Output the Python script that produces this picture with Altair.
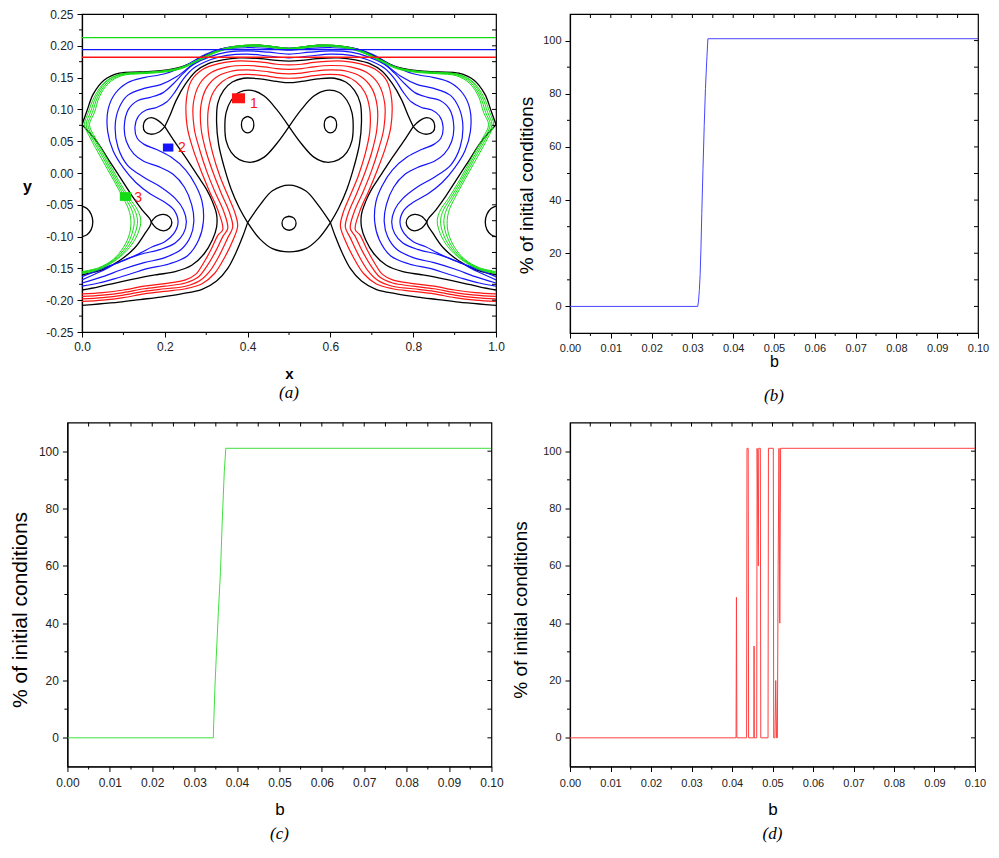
import altair as alt
import pandas as pd

FONT = "Liberation Sans"
SERIF = "Liberation Serif"
BLK = "#000000"
RED = "#ff1414"
BLUE = "#1414ff"
GREEN = "#14dc14"

# ---------------- panel (a) ----------------
A_X_TICKS = [0.0, 0.2, 0.4, 0.6, 0.8, 1.0]
A_X_MINOR = [0.1, 0.3, 0.5, 0.7, 0.9]
A_X_TOP = [0.1, 0.2, 0.3, 0.4, 0.5, 0.6, 0.7, 0.8, 0.9]
A_Y_TICKS = [-0.25, -0.20, -0.15, -0.10, -0.05, 0.0, 0.05, 0.10, 0.15, 0.20, 0.25]
A_Y_MINOR = [-0.225, -0.175, -0.125, -0.075, -0.025, 0.025, 0.075, 0.125, 0.175, 0.225]

A_HLINE_Y = [0.213, 0.194, 0.182]
A_HLINE_C = [GREEN, BLUE, RED]

BLACK_CURVES = [
    [(0.0,0.076),(0.012,0.098),(0.027,0.124),(0.053,0.146),(0.09,0.157),(0.14,0.159),(0.19,0.161),(0.24,0.167),(0.28,0.179),(0.33,0.194),(0.38,0.2),(0.43,0.201),(0.47,0.198),(0.5,0.196),(0.53,0.198),(0.57,0.201),(0.62,0.2),(0.67,0.194),(0.72,0.179),(0.76,0.167),(0.81,0.161),(0.86,0.159),(0.91,0.157),(0.947,0.146),(0.973,0.124),(0.988,0.098),(1.0,0.076)],
    [(0.0,0.076),(0.035,0.05),(0.065,0.02),(0.095,-0.01),(0.12,-0.035),(0.145,-0.058),(0.167,-0.077),(0.152,-0.095),(0.127,-0.118),(0.09,-0.138),(0.05,-0.152),(0.0,-0.16)],
    [(1.0,0.076),(0.965,0.05),(0.935,0.02),(0.905,-0.01),(0.88,-0.035),(0.855,-0.058),(0.833,-0.077),(0.848,-0.095),(0.873,-0.118),(0.91,-0.138),(0.95,-0.152),(1.0,-0.16)],
    [(0.2,0.073),(0.212,0.09),(0.228,0.115),(0.25,0.14),(0.275,0.16),(0.305,0.172),(0.34,0.178),(0.38,0.181),(0.43,0.18),(0.47,0.177),(0.5,0.176),(0.53,0.177),(0.57,0.18),(0.62,0.181),(0.66,0.178),(0.695,0.172),(0.725,0.16),(0.75,0.14),(0.772,0.115),(0.788,0.09),(0.8,0.073)],
    [(0.2,0.073),(0.225,0.048),(0.255,0.02),(0.28,-0.005),(0.3,-0.025),(0.315,-0.045),(0.325,-0.065),(0.325,-0.085),(0.315,-0.105),(0.295,-0.127),(0.265,-0.145),(0.225,-0.155),(0.18,-0.16),(0.13,-0.166),(0.08,-0.173),(0.04,-0.179),(0.0,-0.184)],
    [(0.8,0.073),(0.775,0.048),(0.745,0.02),(0.72,-0.005),(0.7,-0.025),(0.685,-0.045),(0.675,-0.065),(0.675,-0.085),(0.685,-0.105),(0.705,-0.127),(0.735,-0.145),(0.775,-0.155),(0.82,-0.16),(0.87,-0.166),(0.92,-0.173),(0.96,-0.179),(1.0,-0.184)],
    [(0.4,-0.078),(0.38,-0.055),(0.36,-0.025),(0.343,0.01),(0.33,0.045),(0.325,0.08),(0.328,0.11),(0.342,0.13),(0.363,0.143),(0.39,0.149),(0.43,0.148),(0.47,0.144),(0.5,0.142),(0.53,0.144),(0.57,0.148),(0.61,0.149),(0.637,0.143),(0.658,0.13),(0.672,0.11),(0.675,0.08),(0.67,0.045),(0.657,0.01),(0.64,-0.025),(0.62,-0.055),(0.6,-0.078)],
    [(0.4,-0.078),(0.388,-0.1),(0.372,-0.125),(0.352,-0.15),(0.325,-0.17),(0.29,-0.183),(0.24,-0.19),(0.19,-0.195),(0.14,-0.199),(0.09,-0.203),(0.04,-0.206),(0.0,-0.208)],
    [(0.6,-0.078),(0.612,-0.1),(0.628,-0.125),(0.648,-0.15),(0.675,-0.17),(0.71,-0.183),(0.76,-0.19),(0.81,-0.195),(0.86,-0.199),(0.91,-0.203),(0.96,-0.206),(1.0,-0.208)],
    [(0.4,-0.078),(0.43,-0.05),(0.46,-0.028),(0.5,-0.019),(0.54,-0.028),(0.57,-0.05),(0.6,-0.078)],
    [(0.4,-0.078),(0.43,-0.104),(0.46,-0.119),(0.5,-0.124),(0.54,-0.119),(0.57,-0.104),(0.6,-0.078)],
    [(0.5,-0.068),(0.512,-0.071),(0.517,-0.079),(0.512,-0.087),(0.5,-0.09),(0.488,-0.087),(0.483,-0.079),(0.488,-0.071),(0.5,-0.068)],
    [(0.5,0.073),(0.47,0.1),(0.44,0.121),(0.41,0.13),(0.38,0.127),(0.36,0.114),(0.348,0.095),(0.345,0.073),(0.348,0.051),(0.36,0.033),(0.38,0.021),(0.41,0.017),(0.44,0.025),(0.47,0.046),(0.5,0.073)],
    [(0.5,0.073),(0.53,0.1),(0.56,0.121),(0.59,0.13),(0.62,0.127),(0.64,0.114),(0.652,0.095),(0.655,0.073),(0.652,0.051),(0.64,0.033),(0.62,0.021),(0.59,0.017),(0.56,0.025),(0.53,0.046),(0.5,0.073)],
    [(0.4,0.089),(0.411,0.085),(0.415,0.076),(0.411,0.067),(0.4,0.063),(0.389,0.067),(0.385,0.076),(0.389,0.085),(0.4,0.089)],
    [(0.6,0.089),(0.611,0.085),(0.615,0.076),(0.611,0.067),(0.6,0.063),(0.589,0.067),(0.585,0.076),(0.589,0.085),(0.6,0.089)],
    [(0.2,0.073),(0.185,0.082),(0.167,0.087),(0.153,0.083),(0.148,0.074),(0.152,0.065),(0.166,0.061),(0.185,0.064),(0.2,0.073)],
    [(0.8,0.073),(0.815,0.082),(0.833,0.087),(0.847,0.083),(0.852,0.074),(0.848,0.065),(0.834,0.061),(0.815,0.064),(0.8,0.073)],
    [(0.167,-0.077),(0.18,-0.068),(0.197,-0.065),(0.211,-0.069),(0.217,-0.078),(0.211,-0.087),(0.197,-0.091),(0.18,-0.087),(0.167,-0.077)],
    [(0.833,-0.077),(0.82,-0.068),(0.803,-0.065),(0.789,-0.069),(0.783,-0.078),(0.789,-0.087),(0.803,-0.091),(0.82,-0.087),(0.833,-0.077)],
    [(0.0,-0.052),(0.012,-0.056),(0.022,-0.065),(0.026,-0.077),(0.022,-0.089),(0.012,-0.097),(0.0,-0.1)],
    [(1.0,-0.052),(0.988,-0.056),(0.978,-0.065),(0.974,-0.077),(0.978,-0.089),(0.988,-0.097),(1.0,-0.1)],
]

RED_CURVES = [
    [(0,-0.202),(0.05,-0.2),(0.1,-0.196),(0.15,-0.19),(0.2,-0.186),(0.25,-0.182),(0.29,-0.174),(0.32,-0.158),(0.345,-0.132),(0.365,-0.105),(0.376,-0.083),(0.368,-0.06),(0.352,-0.035),(0.333,-0.005),(0.316,0.03),(0.305,0.065),(0.305,0.1),(0.317,0.127),(0.339,0.144),(0.368,0.153),(0.4,0.155),(0.44,0.153),(0.47,0.15),(0.5,0.149),
     (0.53,0.15),(0.56,0.153),(0.6,0.155),(0.632,0.153),(0.661,0.144),(0.683,0.127),(0.695,0.1),(0.695,0.065),(0.684,0.03),(0.667,-0.005),(0.648,-0.035),(0.632,-0.06),(0.624,-0.083),(0.635,-0.105),(0.655,-0.132),(0.68,-0.158),(0.71,-0.174),(0.75,-0.182),(0.8,-0.186),(0.85,-0.19),(0.9,-0.196),(0.95,-0.2),(1.0,-0.202)],
    [(0,-0.198),(0.05,-0.196),(0.1,-0.192),(0.15,-0.186),(0.2,-0.182),(0.25,-0.178),(0.285,-0.169),(0.31,-0.153),(0.333,-0.128),(0.352,-0.102),(0.364,-0.085),(0.355,-0.06),(0.337,-0.033),(0.317,0.0),(0.3,0.033),(0.288,0.068),(0.287,0.105),(0.3,0.133),(0.325,0.151),(0.36,0.16),(0.4,0.162),(0.44,0.16),(0.47,0.157),(0.5,0.156),
     (0.53,0.157),(0.56,0.16),(0.6,0.162),(0.64,0.16),(0.675,0.151),(0.7,0.133),(0.713,0.105),(0.712,0.068),(0.7,0.033),(0.683,0.0),(0.663,-0.033),(0.645,-0.06),(0.636,-0.085),(0.648,-0.102),(0.667,-0.128),(0.69,-0.153),(0.715,-0.169),(0.75,-0.178),(0.8,-0.182),(0.85,-0.186),(0.9,-0.192),(0.95,-0.196),(1.0,-0.198)],
    [(0,-0.194),(0.05,-0.192),(0.1,-0.188),(0.15,-0.182),(0.2,-0.178),(0.25,-0.173),(0.28,-0.164),(0.3,-0.148),(0.322,-0.124),(0.34,-0.1),(0.352,-0.087),(0.342,-0.06),(0.322,-0.031),(0.301,0.003),(0.284,0.037),(0.271,0.07),(0.269,0.11),(0.284,0.14),(0.312,0.158),(0.352,0.167),(0.4,0.169),(0.44,0.167),(0.47,0.164),(0.5,0.163),
     (0.53,0.164),(0.56,0.167),(0.6,0.169),(0.648,0.167),(0.688,0.158),(0.716,0.14),(0.731,0.11),(0.729,0.07),(0.716,0.037),(0.699,0.003),(0.678,-0.031),(0.658,-0.06),(0.648,-0.087),(0.66,-0.1),(0.678,-0.124),(0.7,-0.148),(0.72,-0.164),(0.75,-0.173),(0.8,-0.178),(0.85,-0.182),(0.9,-0.188),(0.95,-0.192),(1.0,-0.194)],
    [(0,-0.19),(0.05,-0.188),(0.1,-0.184),(0.15,-0.178),(0.2,-0.174),(0.25,-0.168),(0.275,-0.159),(0.292,-0.143),(0.312,-0.12),(0.328,-0.098),(0.34,-0.089),(0.329,-0.06),(0.308,-0.029),(0.286,0.006),(0.267,0.04),(0.254,0.073),(0.252,0.115),(0.264,0.145),(0.292,0.163),(0.33,0.172),(0.37,0.176),(0.4,0.176),(0.44,0.174),(0.47,0.171),(0.5,0.17),
     (0.53,0.171),(0.56,0.174),(0.6,0.176),(0.63,0.176),(0.67,0.172),(0.708,0.163),(0.736,0.145),(0.748,0.115),(0.746,0.073),(0.733,0.04),(0.714,0.006),(0.692,-0.029),(0.671,-0.06),(0.66,-0.089),(0.672,-0.098),(0.688,-0.12),(0.708,-0.143),(0.725,-0.159),(0.75,-0.168),(0.8,-0.174),(0.85,-0.178),(0.9,-0.184),(0.95,-0.188),(1.0,-0.19)],
]

BLUE_CURVES = [
    [(0,-0.178),(0.04,-0.173),(0.08,-0.166),(0.12,-0.158),(0.16,-0.15),(0.21,-0.143),(0.255,-0.13),(0.282,-0.105),(0.293,-0.077),(0.29,-0.045),(0.275,-0.02),(0.25,0.005),(0.215,0.025),(0.18,0.037),(0.15,0.045),(0.133,0.055),(0.128,0.073),(0.137,0.09),(0.155,0.099),(0.18,0.103),(0.205,0.112),(0.225,0.128),(0.245,0.148),(0.27,0.165),(0.31,0.178),(0.35,0.185),(0.4,0.187),(0.45,0.184),(0.5,0.181),
     (0.55,0.184),(0.6,0.187),(0.65,0.185),(0.69,0.178),(0.73,0.165),(0.755,0.148),(0.775,0.128),(0.795,0.112),(0.82,0.103),(0.845,0.099),(0.863,0.09),(0.872,0.073),(0.867,0.055),(0.85,0.045),(0.82,0.037),(0.785,0.025),(0.75,0.005),(0.725,-0.02),(0.71,-0.045),(0.707,-0.077),(0.718,-0.105),(0.745,-0.13),(0.79,-0.143),(0.84,-0.15),(0.88,-0.158),(0.92,-0.166),(0.96,-0.173),(1.0,-0.178)],
    [(0,-0.173),(0.05,-0.163),(0.1,-0.151),(0.15,-0.141),(0.2,-0.133),(0.24,-0.12),(0.262,-0.1),(0.27,-0.077),(0.265,-0.05),(0.247,-0.022),(0.22,-0.002),(0.185,0.01),(0.15,0.018),(0.125,0.03),(0.107,0.05),(0.102,0.073),(0.112,0.1),(0.135,0.114),(0.165,0.119),(0.195,0.126),(0.22,0.14),(0.245,0.157),(0.27,0.171),(0.31,0.183),(0.35,0.19),(0.4,0.192),(0.45,0.19),(0.5,0.187),
     (0.55,0.19),(0.6,0.192),(0.65,0.19),(0.69,0.183),(0.73,0.171),(0.755,0.157),(0.78,0.14),(0.805,0.126),(0.835,0.119),(0.865,0.114),(0.888,0.1),(0.898,0.073),(0.893,0.05),(0.875,0.03),(0.85,0.018),(0.815,0.01),(0.78,-0.002),(0.753,-0.022),(0.735,-0.05),(0.73,-0.077),(0.738,-0.1),(0.76,-0.12),(0.8,-0.133),(0.85,-0.141),(0.9,-0.151),(0.95,-0.163),(1.0,-0.173)],
    [(0,-0.168),(0.045,-0.155),(0.09,-0.14),(0.14,-0.128),(0.19,-0.12),(0.225,-0.11),(0.245,-0.095),(0.252,-0.077),(0.245,-0.058),(0.225,-0.04),(0.19,-0.022),(0.15,-0.007),(0.11,0.012),(0.087,0.04),(0.08,0.073),(0.088,0.1),(0.11,0.122),(0.15,0.133),(0.19,0.139),(0.23,0.152),(0.27,0.172),(0.31,0.187),(0.35,0.195),(0.4,0.197),(0.45,0.196),(0.5,0.193),
     (0.55,0.196),(0.6,0.197),(0.65,0.195),(0.69,0.187),(0.73,0.172),(0.77,0.152),(0.81,0.139),(0.85,0.133),(0.89,0.122),(0.912,0.1),(0.92,0.073),(0.913,0.04),(0.89,0.012),(0.85,-0.007),(0.81,-0.022),(0.775,-0.04),(0.755,-0.058),(0.748,-0.077),(0.755,-0.095),(0.775,-0.11),(0.81,-0.12),(0.86,-0.128),(0.91,-0.14),(0.955,-0.155),(1.0,-0.168)],
    [(0,-0.163),(0.05,-0.15),(0.1,-0.138),(0.14,-0.126),(0.17,-0.116),(0.2,-0.108),(0.222,-0.095),(0.232,-0.077),(0.222,-0.058),(0.2,-0.046),(0.165,-0.033),(0.13,-0.015),(0.1,0.008),(0.075,0.035),(0.062,0.065),(0.063,0.1),(0.08,0.125),(0.11,0.142),(0.15,0.15),(0.2,0.156),(0.25,0.169),(0.3,0.187),(0.35,0.197),(0.4,0.2),(0.45,0.199),(0.5,0.196),
     (0.55,0.199),(0.6,0.2),(0.65,0.197),(0.7,0.187),(0.75,0.169),(0.8,0.156),(0.85,0.15),(0.89,0.142),(0.92,0.125),(0.937,0.1),(0.938,0.065),(0.925,0.035),(0.9,0.008),(0.87,-0.015),(0.835,-0.033),(0.8,-0.046),(0.778,-0.058),(0.768,-0.077),(0.778,-0.095),(0.8,-0.108),(0.83,-0.116),(0.86,-0.126),(0.9,-0.138),(0.95,-0.15),(1.0,-0.163)],
]

GREEN_CURVES = [
    [(0,-0.155),(0.04,-0.149),(0.075,-0.136),(0.1,-0.117),(0.115,-0.095),(0.118,-0.075),(0.113,-0.058),(0.1,-0.04),(0.075,-0.01),(0.045,0.025),(0.02,0.055),(0.006,0.076),(0.015,0.095),(0.03,0.12),(0.055,0.143),(0.09,0.155),(0.14,0.158),(0.19,0.16),(0.24,0.166),(0.28,0.178),(0.33,0.193),(0.38,0.2),(0.43,0.201),(0.47,0.198),(0.5,0.196),
     (0.53,0.198),(0.57,0.201),(0.62,0.2),(0.67,0.193),(0.72,0.178),(0.76,0.166),(0.81,0.16),(0.86,0.158),(0.91,0.155),(0.945,0.143),(0.97,0.12),(0.985,0.095),(0.994,0.076),(0.98,0.055),(0.955,0.025),(0.925,-0.01),(0.9,-0.04),(0.887,-0.058),(0.882,-0.075),(0.885,-0.095),(0.9,-0.117),(0.925,-0.136),(0.96,-0.149),(1.0,-0.155)],
    [(0,-0.156),(0.04,-0.15),(0.078,-0.136),(0.105,-0.117),(0.121,-0.095),(0.126,-0.075),(0.12,-0.058),(0.105,-0.04),(0.079,-0.01),(0.05,0.025),(0.024,0.055),(0.01,0.076),(0.02,0.095),(0.034,0.12),(0.058,0.143),(0.092,0.155),(0.14,0.158),(0.19,0.16),(0.24,0.166),(0.28,0.178),(0.33,0.193),(0.38,0.2),(0.43,0.201),(0.47,0.198),(0.5,0.196),
     (0.53,0.198),(0.57,0.201),(0.62,0.2),(0.67,0.193),(0.72,0.178),(0.76,0.166),(0.81,0.16),(0.86,0.158),(0.908,0.155),(0.942,0.143),(0.966,0.12),(0.98,0.095),(0.99,0.076),(0.976,0.055),(0.95,0.025),(0.921,-0.01),(0.895,-0.04),(0.88,-0.058),(0.874,-0.075),(0.879,-0.095),(0.895,-0.117),(0.922,-0.136),(0.96,-0.15),(1.0,-0.156)],
    [(0,-0.157),(0.04,-0.151),(0.081,-0.136),(0.11,-0.117),(0.128,-0.095),(0.134,-0.075),(0.127,-0.058),(0.11,-0.04),(0.083,-0.01),(0.054,0.025),(0.028,0.055),(0.014,0.076),(0.025,0.095),(0.038,0.12),(0.061,0.142),(0.094,0.154),(0.14,0.157),(0.19,0.159),(0.24,0.165),(0.28,0.177),(0.33,0.192),(0.38,0.199),(0.43,0.2),(0.47,0.197),(0.5,0.195),
     (0.53,0.197),(0.57,0.2),(0.62,0.199),(0.67,0.192),(0.72,0.177),(0.76,0.165),(0.81,0.159),(0.86,0.157),(0.906,0.154),(0.939,0.142),(0.962,0.12),(0.975,0.095),(0.986,0.076),(0.972,0.055),(0.946,0.025),(0.917,-0.01),(0.89,-0.04),(0.873,-0.058),(0.866,-0.075),(0.872,-0.095),(0.89,-0.117),(0.919,-0.136),(0.96,-0.151),(1.0,-0.157)],
    [(0,-0.158),(0.04,-0.152),(0.084,-0.136),(0.115,-0.117),(0.135,-0.095),(0.142,-0.075),(0.134,-0.058),(0.115,-0.04),(0.087,-0.01),(0.058,0.025),(0.032,0.055),(0.018,0.076),(0.03,0.095),(0.042,0.12),(0.064,0.141),(0.096,0.153),(0.14,0.156),(0.19,0.158),(0.24,0.164),(0.28,0.176),(0.33,0.191),(0.38,0.198),(0.43,0.199),(0.47,0.196),(0.5,0.194),
     (0.53,0.196),(0.57,0.199),(0.62,0.198),(0.67,0.191),(0.72,0.176),(0.76,0.164),(0.81,0.158),(0.86,0.156),(0.904,0.153),(0.936,0.141),(0.958,0.12),(0.97,0.095),(0.982,0.076),(0.968,0.055),(0.942,0.025),(0.913,-0.01),(0.885,-0.04),(0.866,-0.058),(0.858,-0.075),(0.865,-0.095),(0.885,-0.117),(0.916,-0.136),(0.96,-0.152),(1.0,-0.158)],
]

MARK_X = [0.378, 0.208, 0.105]
MARK_Y = [0.1175, 0.040, -0.037]
MARK_C = [RED, BLUE, GREEN]
MARK_S = [1.7, 1.1, 1.3]
MARK_TXT = ["1", "2", "3"]
MARK_TX = [0.406, 0.232, 0.126]
MARK_TY = [0.108, 0.040, -0.039]

# ---------------- panels (b), (c), (d) ----------------
B_TICKS = [0.0, 0.01, 0.02, 0.03, 0.04, 0.05, 0.06, 0.07, 0.08, 0.09, 0.10]
B_MINOR = [0.005, 0.015, 0.025, 0.035, 0.045, 0.055, 0.065, 0.075, 0.085, 0.095]
P_TICKS = [0, 20, 40, 60, 80, 100]
P_MINOR = [10, 30, 50, 70, 90]

BLUE_B = [0.0, 0.0313, 0.0315, 0.0317, 0.0319, 0.0321, 0.0323, 0.0326, 0.0329, 0.0332, 0.0335, 0.0338, 0.1]
BLUE_P = [0, 0, 2, 6, 12, 22, 35, 52, 68, 82, 92, 100.7, 100.7]

GREEN_B = [0.0, 0.0344, 0.0345, 0.0348, 0.0351, 0.0356, 0.0361, 0.0365, 0.0370, 0.03736, 0.1]
GREEN_P = [0, 0, 5, 18, 28, 44, 58, 75, 93, 101, 101]

RED_B = [0.0, 0.0410, 0.0411, 0.0412, 0.0436, 0.0437, 0.0440, 0.0441, 0.0454, 0.04545, 0.0455, 0.0461, 0.0462,
         0.0465, 0.0466, 0.0470, 0.0471, 0.0489, 0.0490, 0.0502, 0.0503, 0.0506, 0.0508, 0.0510, 0.0512, 0.0514,
         0.0516, 0.0518, 0.0520, 0.0526, 0.1]
RED_P = [0, 0, 49, 0, 0, 101, 101, 0, 0, 32, 0, 0, 101,
         60, 101, 101, 0, 0, 101, 101, 0, 0, 20, 0, 0, 60,
         101, 40, 101, 101, 101]

MINUS = "\u2212"


def curves_df(curves, color, width):
    rows = []
    for cid, pts in enumerate(curves):
        for k, (x, y) in enumerate(pts):
            rows.append({"cid": f"{color}{cid}", "k": k, "x": x, "y": y, "c": color, "w": width})
    return pd.DataFrame(rows)


def tick_layers(xs, ys, xaxis, yaxis, xvals_out, xvals_top, yvals_out, yvals_right, W, H,
                out_len=3, top_len=4, right_len=4):
    return [
        alt.Chart(pd.DataFrame({"x": xvals_out})).mark_rule(color=BLK, strokeWidth=1).encode(
            x=alt.X("x:Q", scale=xs, axis=xaxis), y=alt.value(H), y2=alt.value(H + out_len)),
        alt.Chart(pd.DataFrame({"x": xvals_top})).mark_rule(color=BLK, strokeWidth=1).encode(
            x=alt.X("x:Q", scale=xs, axis=xaxis), y=alt.value(0), y2=alt.value(top_len)),
        alt.Chart(pd.DataFrame({"y": yvals_out})).mark_rule(color=BLK, strokeWidth=1).encode(
            y=alt.Y("y:Q", scale=ys, axis=yaxis), x=alt.value(0), x2=alt.value(-out_len)),
        alt.Chart(pd.DataFrame({"y": yvals_right})).mark_rule(color=BLK, strokeWidth=1).encode(
            y=alt.Y("y:Q", scale=ys, axis=yaxis), x=alt.value(W), x2=alt.value(W - right_len)),
    ]


def caption(text, offset):
    return alt.TitleParams(text=text, orient="bottom", font=SERIF, fontStyle="italic", fontWeight="normal",
                           fontSize=17, color=BLK, offset=offset, anchor="middle")


def spacer(x, y):
    return alt.Chart(pd.DataFrame({"t": ["."]})).mark_text(opacity=0, fontSize=4).encode(
        x=alt.value(x), y=alt.value(y), text="t:N")


# ----- panel (a) -----
AW, AH = 414, 318
axs = alt.Scale(domain=[0, 1], nice=False, zero=False)
ays = alt.Scale(domain=[-0.25, 0.25], nice=False, zero=False)

a_xaxis = alt.Axis(values=A_X_TICKS, format=".1f", tickSize=5, labelFontSize=12, labelPadding=4,
                   labelFlush=False, labelOverlap=False, title="x", titleFontWeight="bold", titleFontSize=15,
                   titleY=41, titleBaseline="middle", grid=False)
a_yaxis = alt.Axis(values=A_Y_TICKS, tickSize=5, labelFontSize=12, labelPadding=4, labelOverlap=False,
                   labelExpr="replace(format(datum.value, '.2f'), '" + MINUS + "', '-')",
                   title="y", titleFontWeight="bold", titleFontSize=16, titleAngle=0, titleX=-55, titleY=172,
                   titleAlign="center", titleBaseline="middle", grid=False)


def a_lines(df):
    return alt.Chart(df).mark_line(interpolate="catmull-rom", clip=True).encode(
        x=alt.X("x:Q", scale=axs, axis=a_xaxis),
        y=alt.Y("y:Q", scale=ays, axis=a_yaxis),
        detail="cid:N", order="k:Q",
        color=alt.Color("c:N", scale=None),
        strokeWidth=alt.StrokeWidth("w:Q", scale=None),
    )


black_df = curves_df(BLACK_CURVES, BLK, 1.3)
red_df = curves_df(RED_CURVES, RED, 1.2)
blue_df = curves_df(BLUE_CURVES, BLUE, 1.2)
green_df = curves_df(GREEN_CURVES, GREEN, 1.0)

hl_df = pd.DataFrame({"y": A_HLINE_Y, "c": A_HLINE_C})
hlines = alt.Chart(hl_df).mark_rule(strokeWidth=1.3).encode(
    y=alt.Y("y:Q", scale=ays, axis=a_yaxis), x=alt.value(0), x2=alt.value(AW),
    color=alt.Color("c:N", scale=None))

mk_df = pd.DataFrame({"x": MARK_X, "y": MARK_Y, "c": MARK_C, "s": MARK_S,
                      "t": MARK_TXT, "tx": MARK_TX, "ty": MARK_TY})
markers = alt.Chart(mk_df).mark_point(shape="M-1.3,-1L1.3,-1L1.3,1L-1.3,1Z", filled=True, opacity=1).encode(
    x=alt.X("x:Q", scale=axs, axis=a_xaxis), y=alt.Y("y:Q", scale=ays, axis=a_yaxis),
    color=alt.Color("c:N", scale=None),
    size=alt.Size("s:Q", scale=alt.Scale(domain=[0, 1.7], range=[0, 100]), legend=None))
mlabels = alt.Chart(mk_df).transform_calculate(x="datum.tx", y="datum.ty").mark_text(
    font=FONT, fontSize=14, color=RED, align="left", baseline="middle").encode(
    x=alt.X("x:Q", scale=axs, axis=a_xaxis), y=alt.Y("y:Q", scale=ays, axis=a_yaxis), text="t:N")

panel_a = alt.layer(
    a_lines(black_df), a_lines(red_df), a_lines(blue_df), a_lines(green_df),
    hlines, markers, mlabels,
    *tick_layers(axs, ays, a_xaxis, a_yaxis, A_X_MINOR, A_X_TOP, A_Y_MINOR, A_Y_TICKS[1:-1] + A_Y_MINOR, AW, AH)
).properties(width=AW, height=AH, title=caption("(a)", 4))


# ----- panels (b), (c), (d) -----
def percent_panel(xs_list, ys_list, color, W, H, label_size, ytitle_size, xtitle_size,
                  ytitle_x, ytitle_y, xtitle_y, label_pad, cap, cap_off, extra):
    bx = alt.Scale(domain=[0, 0.1], nice=False, zero=False)
    py = alt.Scale(domain=[-10, 110], nice=False, zero=False)
    df = pd.DataFrame({"x": xs_list, "y": ys_list})
    xaxis = alt.Axis(values=B_TICKS, format=".2f", tickSize=5, labelFontSize=label_size, labelPadding=label_pad,
                     labelFlush=False, labelOverlap=False, title="b", titleFontSize=xtitle_size,
                     titleFontWeight="normal", titleY=xtitle_y, titleBaseline="middle", grid=False)
    yaxis = alt.Axis(values=P_TICKS, format="d", tickSize=5, labelFontSize=label_size, labelPadding=4,
                     labelOverlap=False, title="% of initial conditions", titleFontSize=ytitle_size,
                     titleFontWeight="normal", titleAngle=270, titleX=ytitle_x, titleY=ytitle_y,
                     titleAlign="center", titleBaseline="middle", grid=False)
    line = alt.Chart(df).mark_line(color=color, strokeWidth=1, clip=True).encode(
        x=alt.X("x:Q", scale=bx, axis=xaxis), y=alt.Y("y:Q", scale=py, axis=yaxis))
    return alt.layer(
        line, *extra,
        *tick_layers(bx, py, xaxis, yaxis, B_MINOR, B_TICKS[1:-1] + B_MINOR, P_MINOR,
                     P_TICKS + P_MINOR, W, H)
    ).properties(width=W, height=H, title=caption(cap, cap_off))


panel_b = percent_panel(BLUE_B, BLUE_P, "#4646ff", 408, 319, 11, 19, 16, -44, 171, 28.5, 4, "(b)", 18, [])
panel_c = percent_panel(GREEN_B, GREEN_P, "#3ee03e", 424, 344, 12, 21, 17, -47, 187, 43, 6, "(c)", 8,
                        [spacer(451, 100)])
panel_d = percent_panel(RED_B, RED_P, "#ff4040", 405, 344, 11, 19, 17, -50, 187, 43, 6, "(d)", 8, [])

chart = alt.concat(
    panel_a, panel_b, panel_c, panel_d, columns=2, align="each",
    center=alt.RowColboolean(column=True, row=False),
    spacing=alt.RowColnumber(row=15.5, column=-10),
).properties(padding={"left": 0, "top": -1, "right": 0, "bottom": 0}).configure_view(
    stroke=BLK, strokeWidth=1.2
).configure_axis(
    domainColor=BLK, domainWidth=1.2, tickColor=BLK, tickWidth=1, labelColor="#222222",
    labelFont=FONT, titleFont=FONT, titleColor=BLK
).configure_title(font=SERIF)

chart.save("out.html", embed_options={"renderer": "svg", "actions": False})
